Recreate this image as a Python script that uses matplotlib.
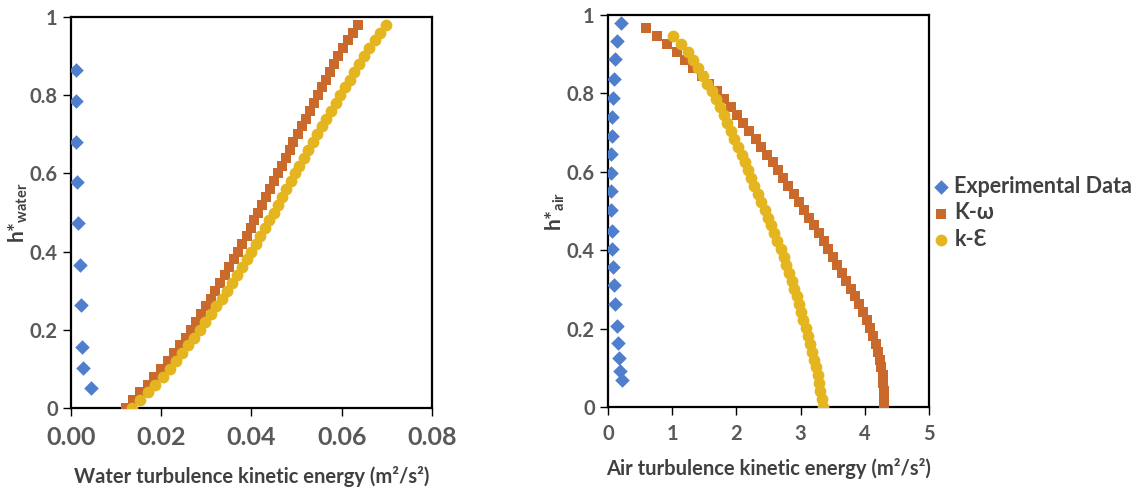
import matplotlib
matplotlib.use("Agg")
import matplotlib.pyplot as plt

plt.rcParams['font.family'] = ['Lato', 'DejaVu Sans']

# ---- water (left panel) ----
h_exp_water = [0.864, 0.786, 0.681, 0.577, 0.473, 0.365, 0.263, 0.157, 0.103, 0.052]
k_exp_water = [0.00115, 0.00115, 0.00115, 0.00137, 0.00166, 0.00204, 0.00226, 0.00248, 0.00277, 0.00453]

h_model_water = [0.00, 0.02, 0.04, 0.06, 0.08, 0.10, 0.12, 0.14, 0.16, 0.18,
                 0.20, 0.22, 0.24, 0.26, 0.28, 0.30, 0.32, 0.34, 0.36, 0.38,
                 0.40, 0.42, 0.44, 0.46, 0.48, 0.50, 0.52, 0.54, 0.56, 0.58,
                 0.60, 0.62, 0.64, 0.66, 0.68, 0.70, 0.72, 0.74, 0.76, 0.78,
                 0.80, 0.82, 0.84, 0.86, 0.88, 0.90, 0.92, 0.94, 0.96, 0.98]
k_komega_water = [0.0122, 0.0138, 0.0154, 0.0170, 0.0185, 0.0200, 0.0214, 0.0228, 0.0241, 0.0254,
                  0.0266, 0.0277, 0.0288, 0.0299, 0.0310, 0.0320, 0.0330, 0.0341, 0.0351, 0.0361,
                  0.0371, 0.0380, 0.0389, 0.0398, 0.0406, 0.0415, 0.0424, 0.0432, 0.0441, 0.0449,
                  0.0458, 0.0467, 0.0476, 0.0485, 0.0493, 0.0502, 0.0511, 0.0520, 0.0530, 0.0539,
                  0.0548, 0.0557, 0.0566, 0.0574, 0.0583, 0.0592, 0.0602, 0.0613, 0.0624, 0.0635]
k_keps_water = [0.0136, 0.0153, 0.0170, 0.0187, 0.0203, 0.0219, 0.0233, 0.0247, 0.0260, 0.0273,
                0.0286, 0.0298, 0.0310, 0.0322, 0.0334, 0.0345, 0.0356, 0.0367, 0.0378, 0.0389,
                0.0400, 0.0410, 0.0420, 0.0430, 0.0439, 0.0449, 0.0458, 0.0468, 0.0477, 0.0487,
                0.0496, 0.0506, 0.0516, 0.0526, 0.0536, 0.0546, 0.0556, 0.0566, 0.0576, 0.0587,
                0.0597, 0.0608, 0.0618, 0.0628, 0.0639, 0.0649, 0.0661, 0.0673, 0.0685, 0.0697]

# ---- air (right panel) ----
h_exp_air = [0.980, 0.934, 0.887, 0.836, 0.787, 0.740, 0.692, 0.645, 0.597, 0.550, 0.503,
             0.449, 0.403, 0.358, 0.311, 0.263, 0.207, 0.162, 0.124, 0.092, 0.069]
k_exp_air = [0.198, 0.135, 0.114, 0.093, 0.083, 0.067, 0.062, 0.051, 0.047, 0.047, 0.047,
             0.062, 0.067, 0.083, 0.098, 0.104, 0.145, 0.160, 0.171, 0.187, 0.218]

h_model_air = [0.000, 0.020, 0.040, 0.060, 0.081, 0.101, 0.121, 0.141, 0.161, 0.181,
               0.201, 0.222, 0.242, 0.262, 0.282, 0.302, 0.322, 0.342, 0.362, 0.382,
               0.403, 0.423, 0.443, 0.463, 0.483, 0.503, 0.523, 0.543, 0.564, 0.584,
               0.604, 0.624, 0.644, 0.664, 0.684, 0.704, 0.725, 0.745, 0.765, 0.785,
               0.805, 0.825, 0.845, 0.865, 0.886, 0.906, 0.926, 0.946, 0.966]
k_komega_air = [4.30, 4.30, 4.30, 4.29, 4.28, 4.26, 4.24, 4.21, 4.17, 4.13,
                4.08, 4.03, 3.97, 3.91, 3.85, 3.78, 3.71, 3.64, 3.57, 3.50,
                3.43, 3.36, 3.28, 3.21, 3.13, 3.05, 2.97, 2.89, 2.81, 2.73,
                2.65, 2.57, 2.48, 2.39, 2.30, 2.20, 2.11, 2.01, 1.91, 1.81,
                1.70, 1.58, 1.46, 1.33, 1.20, 1.07, 0.92, 0.77, 0.59]
k_keps_air = [3.35, 3.33, 3.31, 3.29, 3.27, 3.24, 3.21, 3.18, 3.15, 3.11,
              3.08, 3.04, 3.01, 2.97, 2.94, 2.90, 2.86, 2.82, 2.78, 2.74,
              2.69, 2.64, 2.59, 2.54, 2.49, 2.44, 2.39, 2.34, 2.28, 2.23,
              2.18, 2.13, 2.08, 2.02, 1.97, 1.91, 1.85, 1.80, 1.74, 1.68,
              1.62, 1.55, 1.48, 1.41, 1.33, 1.24, 1.14, 1.02]

labels = ["Experimental Data", "K-\u03c9", "k-\u0190"]
c_exp = "#4F7FCC"
c_kw = "#C96A2C"
c_ke = "#E5B520"
tick_grey = "#595959"
label_grey = "#404040"


def style_axes(ax):
  for s in ax.spines.values():
    s.set_linewidth(1.6)
    s.set_color("black")
  ax.tick_params(direction="out", length=6, width=1.0, top=False, right=False)
  ax.set_ylim(0, 1)
  ax.set_yticks([0, 0.2, 0.4, 0.6, 0.8, 1])
  ax.set_yticklabels(["0", "0.2", "0.4", "0.6", "0.8", "1"])
  for t in ax.get_yticklabels():
    t.set_fontsize(14.5)
    t.set_fontweight("bold")
    t.set_color(tick_grey)


fig = plt.figure(figsize=(11.48, 4.9), dpi=100)

ax1 = fig.add_axes([0.0618, 0.1673, 0.3145, 0.798])
ax1.scatter(k_exp_water, h_exp_water, marker="D", s=55, color=c_exp, linewidths=0, zorder=3)
ax1.scatter(k_komega_water, h_model_water, marker="s", s=52, color=c_kw, linewidths=0, zorder=3)
ax1.scatter(k_keps_water, h_model_water, marker="o", s=72, color=c_ke, linewidths=0, zorder=4)
style_axes(ax1)
ax1.set_xlim(0, 0.08)
ax1.set_xticks([0, 0.02, 0.04, 0.06, 0.08])
ax1.set_xticklabels(["0.00", "0.02", "0.04", "0.06", "0.08"])
for t in ax1.get_xticklabels():
  t.set_fontsize(18)
  t.set_fontweight("bold")
  t.set_color(tick_grey)
ax1.tick_params(axis="x", pad=7)
ax1.set_xlabel("Water turbulence kinetic energy (m\u00b2/s\u00b2)", fontsize=14.5,
               fontweight="bold", color=label_grey, labelpad=12)
ax1.set_ylabel("h*$_{\\mathregular{water}}$", fontsize=15, fontweight="bold",
               color=label_grey, labelpad=0)

ax2 = fig.add_axes([0.5296, 0.1694, 0.2796, 0.800])
ax2.scatter(k_exp_air, h_exp_air, marker="D", s=55, color=c_exp, linewidths=0, zorder=3, label=labels[0])
ax2.scatter(k_komega_air, h_model_air, marker="s", s=52, color=c_kw, linewidths=0, zorder=3, label=labels[1])
ax2.scatter(k_keps_air, h_model_air[:len(k_keps_air)], marker="o", s=72, color=c_ke,
            linewidths=0, zorder=4, label=labels[2])
style_axes(ax2)
ax2.set_xlim(0, 5)
ax2.set_xticks([0, 1, 2, 3, 4, 5])
for t in ax2.get_xticklabels():
  t.set_fontsize(14.5)
  t.set_fontweight("bold")
  t.set_color(tick_grey)
ax2.tick_params(axis="x", pad=6)
ax2.set_xlabel("Air turbulence kinetic energy (m\u00b2/s\u00b2)", fontsize=14.5,
               fontweight="bold", color=label_grey, labelpad=10)
ax2.set_ylabel("h*$_{\\mathregular{air}}$", fontsize=15, fontweight="bold",
               color=label_grey, labelpad=0)

leg = ax2.legend(loc="center left", bbox_to_anchor=(0.945, 0.495), frameon=False,
                 handletextpad=0.1, handlelength=1.0, labelspacing=0.25,
                 prop={"weight": "bold", "size": 15.5})
for t in leg.get_texts():
  t.set_color(label_grey)

fig.savefig("out.png", dpi=100)
